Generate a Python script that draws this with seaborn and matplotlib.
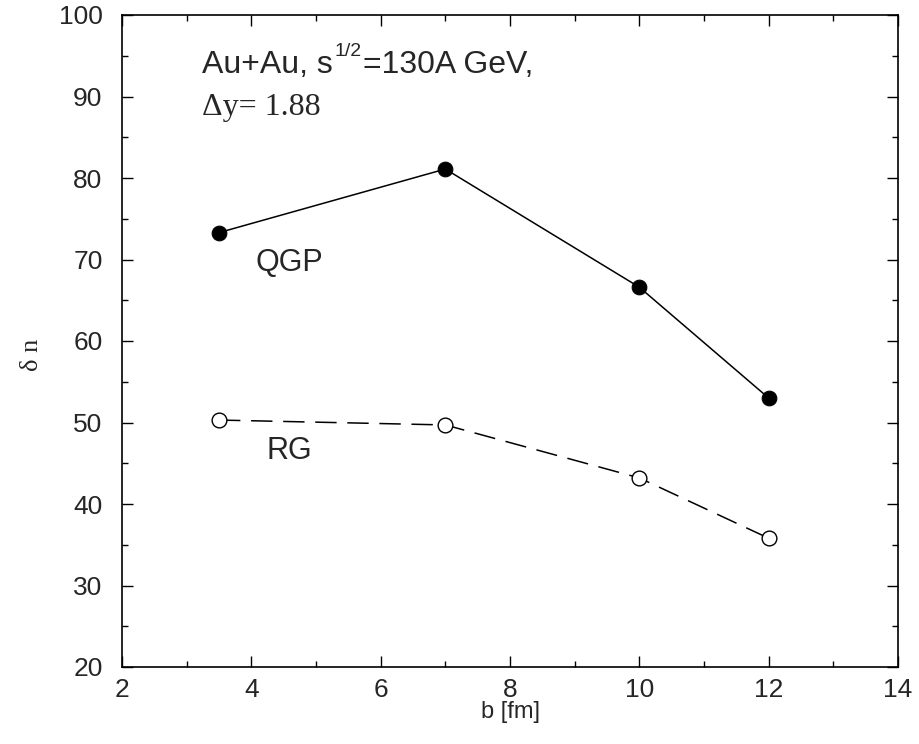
import matplotlib
matplotlib.use("Agg")
import matplotlib.pyplot as plt
from matplotlib.ticker import MultipleLocator
import pandas as pd
import seaborn as sns

# impact parameter b [fm] and multiplicity fluctuations
b_values = [3.5, 7.0, 10.0, 12.0]
qgp_values = [73.3, 81.1, 66.6, 53.0]
rg_values = [50.3, 49.7, 43.2, 35.8]
x_ticks = [2, 4, 6, 8, 10, 12, 14]
y_ticks = [20, 30, 40, 50, 60, 70, 80, 90, 100]

sns.set_style("ticks")
plt.rcParams["font.family"] = ["Liberation Sans", "DejaVu Sans"]
SERIF = ["Liberation Serif", "DejaVu Serif"]

df = pd.DataFrame({
    "b": b_values * 2,
    "dn": qgp_values + rg_values,
    "model": ["QGP"] * 4 + ["RG"] * 4,
})

fig = plt.figure(figsize=(9.19, 7.44), dpi=100)
ax = fig.add_axes([122 / 919, 1 - 667 / 744, (898 - 122) / 919, (667 - 15) / 744])

sns.lineplot(data=df[df.model == "QGP"], x="b", y="dn", ax=ax, color="black",
             linewidth=1.1, marker="o", markersize=10.6, markerfacecolor="black",
             markeredgecolor="black", estimator=None, legend=False)
sns.lineplot(data=df[df.model == "RG"], x="b", y="dn", ax=ax, color="black",
             linewidth=1.1, marker="o", markersize=10.6, markerfacecolor="white",
             markeredgecolor="black", markeredgewidth=1.0, estimator=None,
             legend=False)
ax.lines[-1].set_dashes([14, 7])

ax.set_xlim(2, 14)
ax.set_ylim(20, 100)
ax.set_xticks(x_ticks)
ax.set_yticks(y_ticks)
ax.xaxis.set_minor_locator(MultipleLocator(1))
ax.yaxis.set_minor_locator(MultipleLocator(5))
ax.tick_params(which="both", direction="in", top=True, right=True,
               labelsize=19, width=1.0, color="black")
ax.tick_params(axis="y", pad=14)
ax.tick_params(axis="x", pad=8)
ax.tick_params(which="major", length=8)
ax.tick_params(which="minor", length=4)
for s in ax.spines.values():
    s.set_linewidth(1.2)
    s.set_color("black")

ax.set_xlabel("b [fm]", fontsize=17)
ax.xaxis.set_label_coords(0.5, -0.052)
ax.set_ylabel("δ n", fontsize=19, family=SERIF)
ax.yaxis.set_label_coords(-0.102, 0.478)

# header: "Au+Au, s^(1/2)=130A GeV," with a raised exponent
x0, y0 = 3.24, 92.9
t1 = ax.text(x0, y0, "Au+Au, s", fontsize=23, va="baseline")
renderer = fig.canvas.get_renderer()
bx, by = ax.transData.transform((x0, y0))
e1 = t1.get_window_extent(renderer)
t2 = ax.annotate("1/2", xy=(e1.x1 + 2, by + 17), xycoords="figure pixels",
                 fontsize=14, va="baseline", ha="left")
e2 = t2.get_window_extent(renderer)
ax.annotate("=130A GeV,", xy=(e2.x1 + 1, by), xycoords="figure pixels",
            fontsize=23, va="baseline", ha="left")
ax.text(x0, 87.7, "Δy= 1.88", fontsize=23, family=SERIF, va="baseline")

ax.text(4.07, 68.6, "QGP", fontsize=22, va="baseline")
ax.text(4.23, 45.5, "RG", fontsize=22, va="baseline")

fig.savefig("out.png", dpi=100, facecolor="white")
